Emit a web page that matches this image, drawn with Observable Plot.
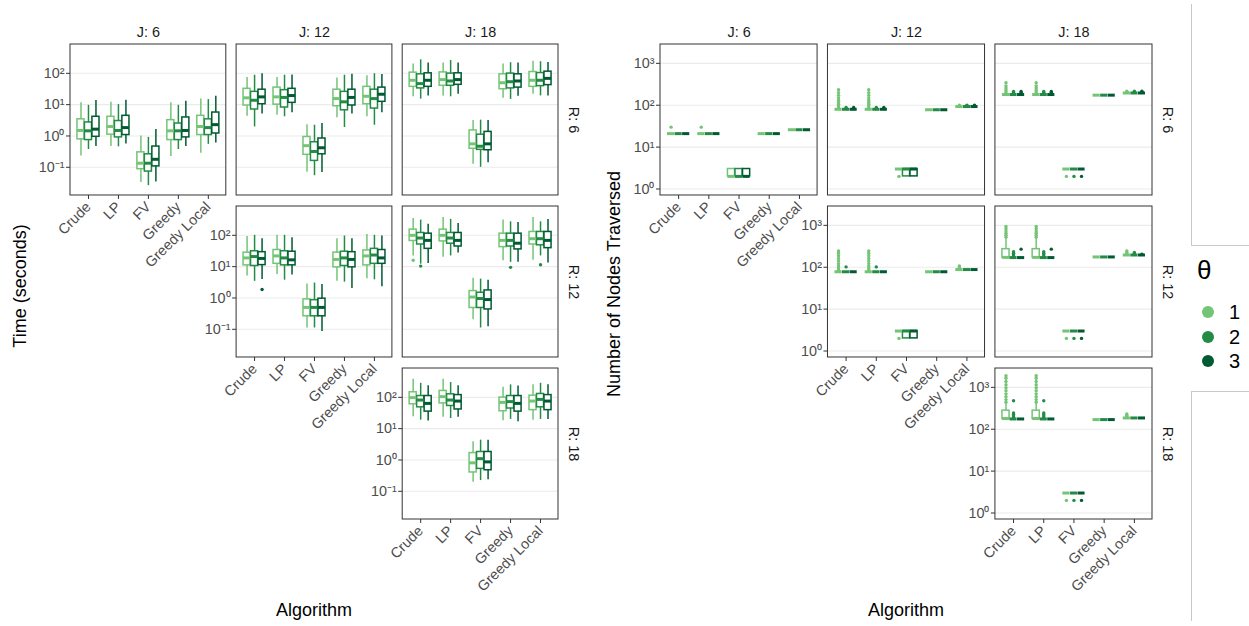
<!DOCTYPE html>
<html>
<head>
<meta charset="utf-8">
<script src="https://cdn.jsdelivr.net/npm/d3@7"></script>
<script src="https://cdn.jsdelivr.net/npm/@observablehq/plot@0.6"></script>
<style>
  body { margin: 0; background: #fff; font-family: "Liberation Sans", Arial, Helvetica, sans-serif; }
  #fig { position: relative; width: 1249px; height: 626px; overflow: hidden; background: #fff; }
  .abs { position: absolute; }
  .panel-svg { position: absolute; top: 0; }
  .title-x { font-size: 18px; color: #000; white-space: nowrap; transform: translate(-50%, -50%); }
  .title-y { font-size: 18px; color: #000; white-space: nowrap; transform: translate(-50%, -50%) rotate(-90deg); }
  .legend-title { font-size: 26px; color: #000; }
  .legend-key { width: 12px; height: 12px; border-radius: 50%; }
  .legend-label { font-size: 20px; color: #000; line-height: 20px; }
  .cell-border { border-color: #c8c8c8; border-style: solid; border-width: 0; }
</style>
</head>
<body>
<div id="fig"></div>
<script>
// ---- categories -------------------------------------------------------
const algorithms = ["Crude", "LP", "FV", "Greedy", "Greedy Local"];
const thetas = ["1", "2", "3"];
const thetaColors = ["#74c476", "#238b45", "#005a32"];
const jValues = [6, 12, 18];
const rValues = [6, 12, 18];
const panels = [[6, 6], [12, 6], [18, 6], [12, 12], [18, 12], [18, 18]]; // [J, R]
const timeTicks = [0.1, 1, 10, 100];
const nodeTicks = [1, 10, 100, 1000];

// ---- running time (seconds): [lower whisker, Q1, median, Q3, upper whisker]
// rows ordered Crude θ1..θ3, LP θ1..θ3, FV, Greedy, Greedy Local
const timeJ6R6 = [
  [0.23, 0.78, 1.5, 3.4, 11.4], [0.37, 0.74, 1.46, 2.7, 9.5], [0.46, 0.94, 1.65, 4.1, 13.5],
  [0.46, 1.1, 2.0, 4.1, 12], [0.45, 0.9, 1.5, 3.0, 10], [0.55, 1.07, 1.85, 4.4, 13.8],
  [0.033, 0.087, 0.135, 0.30, 1.0], [0.026, 0.073, 0.135, 0.26, 0.9], [0.034, 0.107, 0.18, 0.46, 1.6],
  [0.22, 0.74, 1.46, 3.2, 11.4], [0.37, 0.74, 1.46, 2.5, 9.5], [0.46, 0.9, 1.5, 3.9, 12.8],
  [0.28, 1.07, 2.0, 4.4, 15.2], [0.54, 1.07, 1.85, 3.4, 14.5], [0.6, 1.2, 2.3, 5.6, 18.5]
];
const timeJ12R6 = [
  [4.3, 9.4, 16.5, 32, 73], [1.95, 7, 13.8, 25.6, 87], [5.0, 10.3, 17.7, 30, 97],
  [4.6, 10, 17.7, 35, 73], [4.1, 8.1, 17, 29, 87], [5.5, 11.4, 19.5, 32, 88],
  [0.069, 0.25, 0.49, 0.93, 2.3], [0.054, 0.16, 0.32, 0.63, 2.2], [0.068, 0.26, 0.42, 0.83, 2.5],
  [3.8, 8.9, 15.6, 30, 71], [1.86, 6.6, 12.3, 25.6, 87], [5.0, 9.4, 17, 30, 93],
  [4.1, 10.3, 18.5, 37, 84], [2.2, 7.5, 15.6, 30, 97], [5.5, 12.3, 21.5, 35, 91]
];
const timeJ18R6 = [
  [17.8, 37, 60, 105, 200], [15, 33, 47, 93, 270], [19, 37, 60, 100, 212],
  [19, 40, 63, 107, 212], [17.8, 40, 57, 98, 258], [21.6, 43, 63, 100, 212],
  [0.125, 0.39, 0.56, 1.5, 3.1], [0.10, 0.36, 0.47, 1.1, 3.2], [0.14, 0.35, 0.56, 1.35, 3.1],
  [16, 31, 50, 93, 200], [14.7, 33, 54, 98, 218], [18.6, 35, 57, 93, 212],
  [21.6, 37, 60, 110, 245], [19, 39, 60, 102, 234], [19, 42, 69, 113, 223]
];
const timeJ12R12 = [
  [5.0, 11, 19, 28, 91], [3.4, 10.5, 21, 31, 100], [3.9, 11.2, 18.3, 29, 78],
  [5.6, 12.3, 22, 34, 100], [3.7, 11, 19, 31, 100], [5.4, 11, 16.5, 30, 84],
  [0.11, 0.26, 0.5, 0.9, 2.8], [0.11, 0.26, 0.5, 0.85, 3.0], [0.085, 0.26, 0.5, 0.95, 2.7],
  [3.4, 9.5, 17, 28, 78], [3.2, 10.5, 19, 30, 95], [2.0, 9.5, 17, 29, 78],
  [4.1, 11, 22, 33, 107], [3.8, 12.3, 23.5, 37, 100], [2.3, 12.3, 19, 34, 95]
];
const timeJ18R12 = [
  [22, 66, 100, 152, 345], [12, 51, 82, 119, 306], [12.6, 37, 69, 113, 227],
  [20, 64, 100, 152, 372], [22, 54, 82, 119, 322], [27.5, 44, 69, 119, 238],
  [0.2, 0.48, 1.07, 1.66, 4.3], [0.11, 0.48, 0.96, 1.47, 4.0], [0.12, 0.43, 0.89, 1.74, 3.7],
  [15.5, 42, 69, 113, 306], [13.7, 44, 69, 113, 270], [13.7, 35.5, 56, 113, 257],
  [16, 51, 78, 128, 372], [22, 48, 78, 128, 270], [13, 39, 69, 128, 322]
];
const timeJ18R18 = [
  [24, 60, 98, 145, 378], [18.7, 48, 82, 110, 280], [17.4, 35, 64, 110, 236],
  [23, 64, 105, 160, 378], [21, 53, 82, 125, 296], [23, 41, 76, 118, 236],
  [0.195, 0.40, 0.81, 1.66, 3.8], [0.22, 0.52, 1.1, 1.8, 4.3], [0.235, 0.47, 0.87, 1.8, 4.3],
  [17.8, 36, 69, 98, 209], [19.7, 44, 73, 110, 250], [16.6, 35, 64, 110, 231],
  [18.7, 39, 76, 113, 250], [19.7, 48, 86, 128, 280], [19.7, 39, 76, 118, 250]
];
// outlying runs: [algorithm, θ, seconds]
const timeOutJ12R12 = [["Crude", "3", 1.86]];
const timeOutJ18R12 = [["Crude", "1", 16], ["Crude", "2", 10.4], ["Greedy", "2", 9.5], ["Greedy Local", "2", 11.5]];

// ---- nodes traversed: [lower whisker, Q1, median, Q3, upper whisker]
const nodesJ6R6 = [
  [21, 21, 21, 21, 21], [21, 21, 21, 21, 21], [21, 21, 21, 21, 21],
  [21, 21, 21, 21, 21], [21, 21, 21, 21, 21], [21, 21, 21, 21, 21],
  [2, 2, 2, 3, 3], [2, 2, 2, 3, 3], [2, 2, 2, 3, 3],
  [21, 21, 21, 21, 21], [21, 21, 21, 21, 21], [21, 21, 21, 21, 21],
  [26, 26, 26, 26, 26], [26, 26, 26, 26, 26], [26, 26, 26, 26, 26]
];
const nodesJ12R6 = [
  [80, 80, 80, 80, 80], [80, 80, 80, 80, 80], [80, 80, 80, 80, 80],
  [80, 80, 80, 80, 80], [80, 80, 80, 80, 80], [80, 80, 80, 80, 80],
  [3, 3, 3, 3, 3], [2, 2, 3, 3, 3], [2, 2, 3, 3, 3],
  [78, 78, 78, 78, 78], [78, 78, 78, 78, 78], [78, 78, 78, 78, 78],
  [93, 93, 93, 93, 93], [93, 93, 93, 93, 93], [93, 93, 93, 93, 93]
];
const nodesJ18R6 = [
  [180, 180, 180, 180, 180], [180, 180, 180, 180, 180], [180, 180, 180, 180, 180],
  [180, 180, 180, 180, 180], [180, 180, 180, 180, 180], [180, 180, 180, 180, 180],
  [3, 3, 3, 3, 3], [3, 3, 3, 3, 3], [3, 3, 3, 3, 3],
  [174, 174, 174, 174, 174], [174, 174, 174, 174, 174], [174, 174, 174, 174, 174],
  [196, 196, 196, 196, 196], [196, 196, 196, 196, 196], [196, 196, 196, 196, 196]
];
const nodesJ12R12 = [
  [78, 78, 78, 78, 78], [78, 78, 78, 78, 78], [78, 78, 78, 78, 78],
  [78, 78, 78, 78, 78], [78, 78, 78, 78, 78], [78, 78, 78, 78, 78],
  [3, 3, 3, 3, 3], [2, 2, 3, 3, 3], [2, 2, 3, 3, 3],
  [78, 78, 78, 78, 78], [78, 78, 78, 78, 78], [78, 78, 78, 78, 78],
  [88, 88, 88, 88, 88], [88, 88, 88, 88, 88], [88, 88, 88, 88, 88]
];
const nodesJ18R12 = [
  [170, 170, 172, 270, 470], [170, 170, 170, 170, 170], [170, 170, 170, 170, 170],
  [170, 170, 172, 270, 470], [170, 170, 170, 170, 170], [170, 170, 170, 170, 170],
  [3, 3, 3, 3, 3], [3, 3, 3, 3, 3], [3, 3, 3, 3, 3],
  [176, 176, 176, 176, 176], [176, 176, 176, 176, 176], [176, 176, 176, 176, 176],
  [196, 196, 196, 196, 196], [196, 196, 196, 196, 196], [196, 196, 196, 196, 196]
];
const nodesJ18R18 = [
  [176, 176, 180, 278, 400], [176, 176, 176, 176, 176], [176, 176, 176, 176, 176],
  [176, 176, 180, 278, 400], [176, 176, 176, 176, 176], [176, 176, 176, 176, 176],
  [3, 3, 3, 3, 3], [3, 3, 3, 3, 3], [3, 3, 3, 3, 3],
  [170, 170, 170, 170, 170], [170, 170, 170, 170, 170], [170, 170, 170, 170, 170],
  [186, 186, 186, 186, 186], [186, 186, 186, 186, 186], [186, 186, 186, 186, 186]
];
// outlying runs: [algorithm, θ, nodes]
const nodesOutJ6R6 = [["Crude", "1", 30], ["LP", "1", 30]];
const nodesOutJ12R6 = [
  ["Crude", "1", 87], ["Crude", "1", 96], ["Crude", "1", 106], ["Crude", "1", 118],
  ["Crude", "1", 132], ["Crude", "1", 150], ["Crude", "1", 172], ["Crude", "1", 200], ["Crude", "1", 235],
  ["Crude", "2", 84], ["Crude", "2", 88], ["Crude", "3", 84], ["Crude", "3", 88],
  ["LP", "1", 87], ["LP", "1", 96], ["LP", "1", 106], ["LP", "1", 118],
  ["LP", "1", 132], ["LP", "1", 150], ["LP", "1", 172], ["LP", "1", 200], ["LP", "1", 235],
  ["LP", "2", 84], ["LP", "2", 88], ["LP", "3", 84], ["LP", "3", 88],
  ["FV", "1", 2],
  ["Greedy Local", "1", 97], ["Greedy Local", "1", 100], ["Greedy Local", "2", 97], ["Greedy Local", "2", 100],
  ["Greedy Local", "3", 97], ["Greedy Local", "3", 100]
];
const nodesOutJ18R6 = [
  ["Crude", "1", 192], ["Crude", "1", 210], ["Crude", "1", 232], ["Crude", "1", 258],
  ["Crude", "1", 290], ["Crude", "1", 343],
  ["Crude", "2", 190], ["Crude", "2", 200], ["Crude", "2", 212], ["Crude", "3", 190], ["Crude", "3", 200], ["Crude", "3", 212],
  ["LP", "1", 192], ["LP", "1", 210], ["LP", "1", 232], ["LP", "1", 258],
  ["LP", "1", 290], ["LP", "1", 343],
  ["LP", "2", 190], ["LP", "2", 200], ["LP", "2", 212], ["LP", "3", 190], ["LP", "3", 200], ["LP", "3", 212],
  ["FV", "1", 2], ["FV", "2", 2], ["FV", "3", 2],
  ["Greedy Local", "1", 205], ["Greedy Local", "1", 216], ["Greedy Local", "2", 205], ["Greedy Local", "2", 216],
  ["Greedy Local", "3", 205], ["Greedy Local", "3", 216]
];
const nodesOutJ12R12 = [
  ["Crude", "1", 86], ["Crude", "1", 96], ["Crude", "1", 108], ["Crude", "1", 122],
  ["Crude", "1", 140], ["Crude", "1", 162], ["Crude", "1", 188], ["Crude", "1", 215], ["Crude", "1", 245],
  ["Crude", "2", 102],
  ["LP", "1", 86], ["LP", "1", 96], ["LP", "1", 108], ["LP", "1", 122],
  ["LP", "1", 140], ["LP", "1", 162], ["LP", "1", 188], ["LP", "1", 215], ["LP", "1", 245],
  ["LP", "2", 102],
  ["FV", "1", 2],
  ["Greedy Local", "1", 94], ["Greedy Local", "1", 101], ["Greedy Local", "1", 108]
];
const nodesOutJ18R12 = [
  ["Crude", "1", 520], ["Crude", "1", 580], ["Crude", "1", 650], ["Crude", "1", 730],
  ["Crude", "1", 830], ["Crude", "1", 945],
  ["Crude", "2", 184], ["Crude", "2", 198], ["Crude", "2", 215], ["Crude", "2", 235], ["Crude", "3", 270],
  ["LP", "1", 520], ["LP", "1", 580], ["LP", "1", 650], ["LP", "1", 730],
  ["LP", "1", 830], ["LP", "1", 945],
  ["LP", "2", 184], ["LP", "2", 198], ["LP", "2", 215], ["LP", "2", 235], ["LP", "3", 270],
  ["FV", "1", 2], ["FV", "2", 2], ["FV", "3", 2],
  ["Greedy Local", "1", 210], ["Greedy Local", "1", 226], ["Greedy Local", "1", 244],
  ["Greedy Local", "2", 210], ["Greedy Local", "2", 226], ["Greedy Local", "3", 206]
];
const nodesOutJ18R18 = [
  ["Crude", "1", 440], ["Crude", "1", 510], ["Crude", "1", 600], ["Crude", "1", 700],
  ["Crude", "1", 830], ["Crude", "1", 980], ["Crude", "1", 1150], ["Crude", "1", 1380], ["Crude", "1", 1650], ["Crude", "1", 1900],
  ["Crude", "2", 190], ["Crude", "2", 206], ["Crude", "2", 225], ["Crude", "2", 245], ["Crude", "2", 480],
  ["LP", "1", 440], ["LP", "1", 510], ["LP", "1", 600], ["LP", "1", 700],
  ["LP", "1", 830], ["LP", "1", 980], ["LP", "1", 1150], ["LP", "1", 1380], ["LP", "1", 1650], ["LP", "1", 1900],
  ["LP", "2", 190], ["LP", "2", 206], ["LP", "2", 225], ["LP", "2", 245], ["LP", "2", 480],
  ["FV", "1", 2], ["FV", "2", 2], ["FV", "3", 2],
  ["Greedy Local", "1", 200], ["Greedy Local", "1", 215], ["Greedy Local", "1", 232]
];

// ---- table building ----------------------------------------------------
const dodge = 0.25;      // spacing between θ boxes inside one algorithm slot
const halfBox = 0.118;   // half width of a box, in algorithm units

function slot(alg, theta) {
  return algorithms.indexOf(alg) + 1 + (thetas.indexOf(theta) - 1) * dodge;
}
function boxRows(stats, J, R) {
  return stats.map((s, i) => {
    const alg = algorithms[Math.floor(i / 3)], theta = thetas[i % 3];
    const x = slot(alg, theta);
    return {J, R, alg, theta, x, xa: x - halfBox, xb: x + halfBox,
            lo: s[0], q1: s[1], med: s[2], q3: s[3], hi: s[4]};
  });
}
function outlierRows(list, J, R) {
  return list.map(([alg, theta, v]) => ({J, R, alg, theta, x: slot(alg, theta), v}));
}

const timeBoxes = [
  ...boxRows(timeJ6R6, 6, 6), ...boxRows(timeJ12R6, 12, 6), ...boxRows(timeJ18R6, 18, 6),
  ...boxRows(timeJ12R12, 12, 12), ...boxRows(timeJ18R12, 18, 12), ...boxRows(timeJ18R18, 18, 18)
];
const timeOutliers = [...outlierRows(timeOutJ12R12, 12, 12), ...outlierRows(timeOutJ18R12, 18, 12)];

const nodeBoxes = [
  ...boxRows(nodesJ6R6, 6, 6), ...boxRows(nodesJ12R6, 12, 6), ...boxRows(nodesJ18R6, 18, 6),
  ...boxRows(nodesJ12R12, 12, 12), ...boxRows(nodesJ18R12, 18, 12), ...boxRows(nodesJ18R18, 18, 18)
];
const nodeOutliers = [
  ...outlierRows(nodesOutJ6R6, 6, 6), ...outlierRows(nodesOutJ12R6, 12, 6), ...outlierRows(nodesOutJ18R6, 18, 6),
  ...outlierRows(nodesOutJ12R12, 12, 12), ...outlierRows(nodesOutJ18R12, 18, 12), ...outlierRows(nodesOutJ18R18, 18, 18)
];

// ---- drawing -------------------------------------------------------------
const supDigits = {"-": "\u207B", "0": "\u2070", "1": "\u00B9", "2": "\u00B2", "3": "\u00B3"};
const powerOfTen = d => "10" + String(Math.round(Math.log10(d))).split("").map(c => supDigits[c]).join("");
const fontFamily = "'Liberation Sans', Arial, Helvetica, sans-serif";

function facetGrid({boxes, outliers, ticks, yDomain, width, marginLeft, marginRight}) {
  const gridRows = panels.flatMap(([J, R]) => ticks.map(v => ({J, R, v})));
  const frameRows = panels.map(([J, R]) => ({J, R}));
  const lw = 1.5;
  const algTicks = [1, 2, 3, 4, 5];
  return Plot.plot({
    width, height: 626,
    marginLeft, marginRight, marginTop: 44, marginBottom: 107,
    style: {fontFamily, background: "transparent", overflow: "visible"},
    fx: {domain: jValues, paddingInner: 0.062, paddingOuter: 0, round: false},
    fy: {domain: rValues, paddingInner: 0.068, paddingOuter: 0, round: false},
    x: {domain: [0.4, 5.6]},
    y: {type: "log", domain: yDomain},
    color: {domain: thetas, range: thetaColors},
    marks: [
      Plot.ruleY(gridRows, {fx: "J", fy: "R", y: "v", stroke: "#ebebeb", strokeWidth: 1.1}),
      Plot.ruleX(boxes, {fx: "J", fy: "R", x: "x", y1: "lo", y2: "hi", stroke: "theta", strokeWidth: lw}),
      Plot.rect(boxes, {fx: "J", fy: "R", x1: "xa", x2: "xb", y1: "q1", y2: "q3", fill: "white", stroke: "theta", strokeWidth: lw}),
      Plot.ruleY(boxes, {fx: "J", fy: "R", x1: "xa", x2: "xb", y: "med", stroke: "theta", strokeWidth: 3}),
      Plot.dot(outliers, {fx: "J", fy: "R", x: "x", y: "v", fill: "theta", r: 1.7}),
      Plot.rect(frameRows, {fx: "J", fy: "R", fill: "none", stroke: "#333333", strokeWidth: 1}),
      // tick marks and rotated algorithm names are separate so the names can sit a little lower
      Plot.axisX({ticks: algTicks, tickFormat: () => "", tickSize: 4, label: null, stroke: "#333333"}),
      Plot.axisX({ticks: algTicks, tickFormat: i => algorithms[i - 1], tickRotate: -45,
                  tickSize: 0, tickPadding: 9, label: null, fontSize: 14.4, fill: "#4d4d4d"}),
      Plot.axisY({ticks, tickFormat: powerOfTen, tickSize: 4, tickPadding: 2, label: null,
                  fontSize: 14.4, stroke: "#333333", fill: "#4d4d4d"}),
      Plot.axisFx({anchor: "top", tickFormat: d => `J: ${d}`, tickSize: 0, tickPadding: 8,
                   label: null, fontSize: 14.4, fill: "#1a1a1a"}),
      Plot.axisFy({anchor: "right", tickFormat: d => `R: ${d}`, tickSize: 0, tickPadding: 21, tickRotate: 90,
                   label: null, fontSize: 14.4, fill: "#1a1a1a"})
    ]
  });
}

const fig = document.getElementById("fig");

const timeChart = facetGrid({
  boxes: timeBoxes, outliers: timeOutliers, ticks: timeTicks,
  yDomain: [Math.pow(10, -1.9), Math.pow(10, 2.92)],
  width: 600, marginLeft: 70, marginRight: 42
});
timeChart.classList.add("panel-svg");
timeChart.style.left = "0px";
fig.appendChild(timeChart);

const nodeChart = facetGrid({
  boxes: nodeBoxes, outliers: nodeOutliers, ticks: nodeTicks,
  yDomain: [Math.pow(10, -0.155), Math.pow(10, 3.45)],
  width: 590, marginLeft: 60, marginRight: 38
});
nodeChart.classList.add("panel-svg");
nodeChart.style.left = "600px";
fig.appendChild(nodeChart);

// axis titles
function addText(cls, text, left, top) {
  const el = document.createElement("div");
  el.className = "abs " + cls;
  el.textContent = text;
  el.style.left = left + "px";
  el.style.top = top + "px";
  fig.appendChild(el);
  return el;
}
addText("title-y", "Time (seconds)", 20, 286);
addText("title-x", "Algorithm", 314, 610);
addText("title-y", "Number of Nodes Traversed", 614, 284);
addText("title-x", "Algorithm", 906, 610);

// empty neighbouring cells of the figure grid
const cellTop = document.createElement("div");
cellTop.className = "abs cell-border";
Object.assign(cellTop.style, {left: "1191px", top: "4px", width: "70px", height: "241px", borderLeftWidth: "1px", borderBottomWidth: "1px"});
fig.appendChild(cellTop);
const cellBottom = document.createElement("div");
cellBottom.className = "abs cell-border";
Object.assign(cellBottom.style, {left: "1191px", top: "391px", width: "70px", height: "229px", borderLeftWidth: "1px", borderTopWidth: "1px"});
fig.appendChild(cellBottom);

// θ legend
addText("legend-title", "\u03B8", 1197, 255);
thetas.forEach((t, i) => {
  const cy = 312 + i * 24.5;
  const key = document.createElement("div");
  key.className = "abs legend-key";
  key.style.left = (1208 - 6) + "px";
  key.style.top = (cy - 6) + "px";
  key.style.background = thetaColors[i];
  fig.appendChild(key);
  addText("legend-label", t, 1229, cy - 10);
});
</script>
</body>
</html>
